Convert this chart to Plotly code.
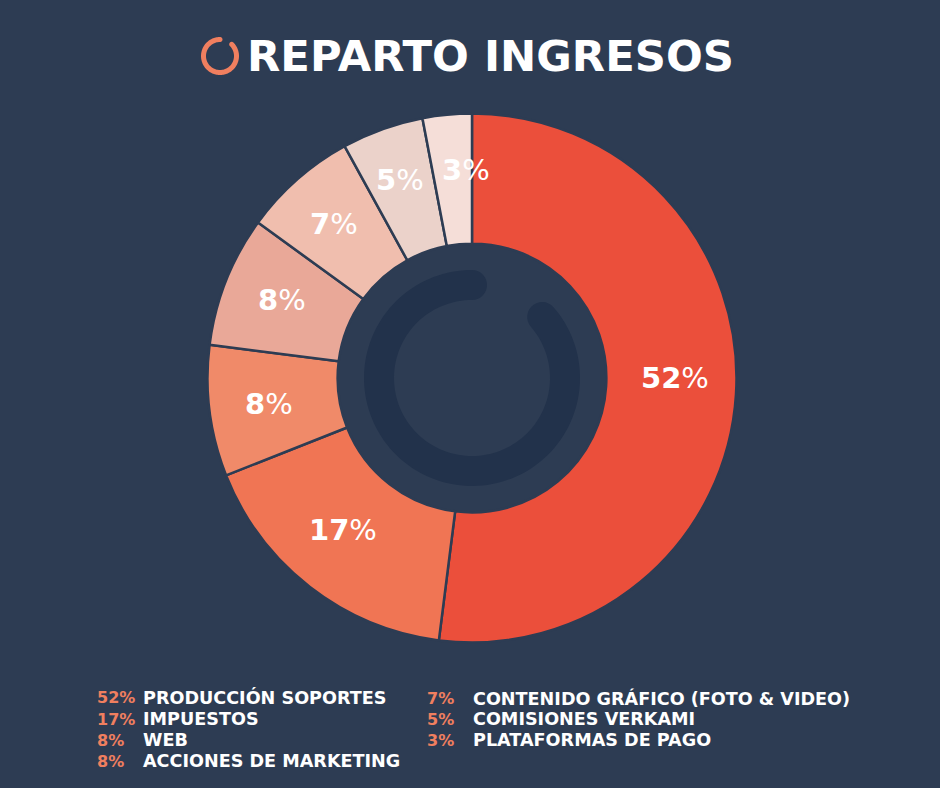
import numpy as np
import plotly.graph_objects as go

# datos del reparto
categorias = ['PRODUCCIÓN SOPORTES', 'IMPUESTOS', 'WEB', 'ACCIONES DE MARKETING',
              'CONTENIDO GRÁFICO (FOTO & VIDEO)', 'COMISIONES VERKAMI', 'PLATAFORMAS DE PAGO']
valores = [52, 17, 8, 8, 7, 5, 3]
colores = ['#EB4F3B', '#F07554', '#F08A69', '#E9A898', '#F0BEAE', '#EBD2CA', '#F5DED8']

W, H = 940, 788
FONDO = '#2D3C53'
FUENTE = 'DejaVu Sans'


def px(x):
    return x / W


def py(y):
    return 1 - y / H


def arco(cx, cy, radio, grosor, ini, fin):
    # anillo con puntas redondas, angulos en grados desde arriba y en sentido horario
    ext = radio + grosor / 2
    inte = radio - grosor / 2
    a = np.radians(np.linspace(ini, fin, 120))
    puntos = [(cx + ext * np.sin(t), cy - ext * np.cos(t)) for t in a]
    for t in np.linspace(0, np.pi, 16):
        r = radio + grosor / 2 * np.cos(t)
        puntos.append((cx + r * np.sin(a[-1]) + grosor / 2 * np.sin(t) * np.cos(a[-1]),
                       cy - r * np.cos(a[-1]) + grosor / 2 * np.sin(t) * np.sin(a[-1])))
    puntos += [(cx + inte * np.sin(t), cy - inte * np.cos(t)) for t in a[::-1]]
    for t in np.linspace(np.pi, 2 * np.pi, 16):
        r = radio + grosor / 2 * np.cos(t)
        puntos.append((cx + r * np.sin(a[0]) + grosor / 2 * np.sin(t) * np.cos(a[0]),
                       cy - r * np.cos(a[0]) + grosor / 2 * np.sin(t) * np.sin(a[0])))
    return 'M ' + ' L '.join(f'{px(x):.5f},{py(y):.5f}' for x, y in puntos) + ' Z'


fig = go.Figure(go.Pie(
    labels=categorias,
    values=valores,
    sort=False,
    direction='clockwise',
    rotation=0,
    hole=0.508,
    textinfo='none',
    marker=dict(colors=colores, line=dict(color=FONDO, width=2.5)),
    domain=dict(x=[px(207.5), px(736.5)], y=[py(642.5), py(113.5)]),
    showlegend=False,
))

anotaciones = []

# titulo
anotaciones.append(dict(x=px(245), y=py(56), text='<b>REPARTO INGRESOS</b>', xanchor='left', yanchor='middle',
                        showarrow=False, xref='paper', yref='paper',
                        font=dict(family=FUENTE, size=43.3, color='white')))

# porcentajes sobre cada porcion
pos_etiquetas = [(675, 378), (343, 530), (269, 404), (282, 300), (334, 224), (400, 180), (466, 170)]
for v, (x, y) in zip(valores, pos_etiquetas):
    anotaciones.append(dict(x=px(x), y=py(y), text=f'<b>{v}</b>%', showarrow=False, xanchor='center', yanchor='middle',
                            xref='paper', yref='paper', font=dict(family=FUENTE, size=29, color='white')))

# leyenda de texto en dos columnas
filas_y = [697, 719, 740, 761, 698, 719, 740]
col_pct = [95, 95, 95, 95, 425, 425, 425]
col_txt = [141, 141, 141, 141, 471, 471, 471]
for c, v, y, x1, x2 in zip(categorias, valores, filas_y, col_pct, col_txt):
    anotaciones.append(dict(x=px(x1), y=py(y), text=f'<b>{v}%</b>', xanchor='left', yanchor='middle', showarrow=False,
                            xref='paper', yref='paper', font=dict(family=FUENTE, size=16, color='#F07F5F')))
    anotaciones.append(dict(x=px(x2), y=py(y), text=f'<b>{c}</b>', xanchor='left', yanchor='middle', showarrow=False,
                            xref='paper', yref='paper', font=dict(family=FUENTE, size=17.6, color='white')))

formas = [
    dict(type='path', path=arco(472, 378, 93, 30, 49, 360), xref='paper', yref='paper',
         fillcolor='#22324B', line=dict(width=0)),
    dict(type='path', path=arco(220, 56, 16.5, 5, 45, 360), xref='paper', yref='paper',
         fillcolor='#F07F5F', line=dict(width=0)),
]

fig.update_layout(
    width=W,
    height=H,
    margin=dict(l=0, r=0, t=0, b=0),
    paper_bgcolor=FONDO,
    plot_bgcolor=FONDO,
    annotations=anotaciones,
    shapes=formas,
)

fig.write_html('out.html', config={'displayModeBar': False},
               post_script="document.body.style.margin='0';document.body.style.background='#2D3C53';")
